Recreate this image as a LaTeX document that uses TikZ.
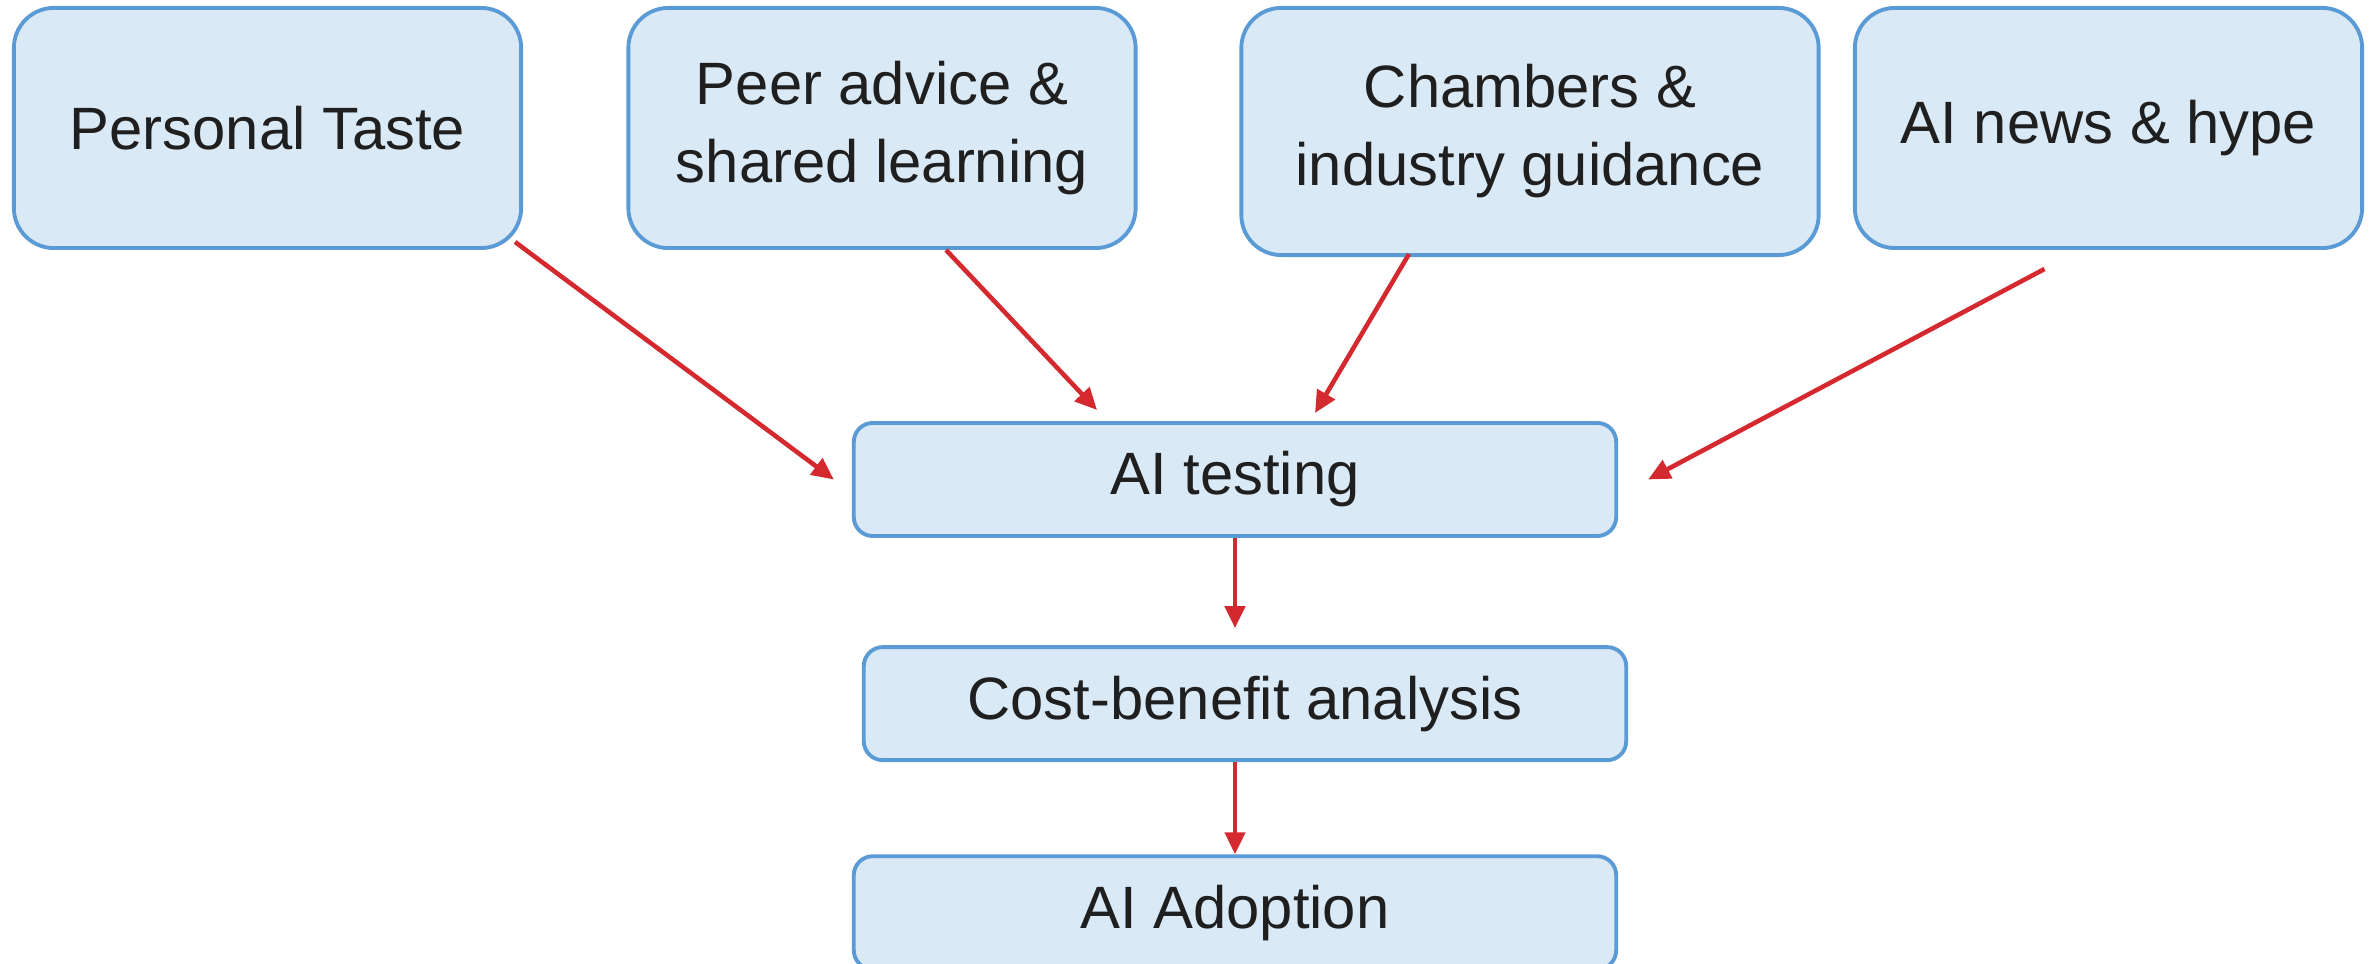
\documentclass[tikz,border=0pt]{standalone}
\usepackage{fontspec}
\setmainfont{Liberation Sans}
\usetikzlibrary{positioning, arrows.meta, calc}

\definecolor{boxfill}{HTML}{DAE9F6}
\definecolor{boxline}{HTML}{5B9BD5}
\definecolor{arrred}{HTML}{D42A2F}
\definecolor{txt}{HTML}{1F1F1F}

\tikzset{
    src/.style={rectangle, rounded corners=0.4cm, draw=boxline, fill=boxfill,
        line width=1.1pt, text=txt, align=center,
        minimum width=5.07cm, minimum height=2.4cm,
        font=\fontsize{17}{22.2}\selectfont},
    stage/.style={src, rounded corners=0.19cm, minimum width=7.62cm, minimum height=1.13cm},
    arr/.style={-{Triangle[length=0.22cm, width=0.2cm]}, draw=arrred, line width=1.3pt}
}

\begin{document}
\begin{tikzpicture}[x=0.01cm, y=-0.01cm, node distance=2.24cm, on grid]
    \useasboundingbox (0,0) rectangle (2377,964);

    % sources
    \node[src] (taste) at (267.5,128) {Personal Taste};
    \node[src] (peer) at (882,128) {Peer advice \&\\shared learning};
    \node[src, minimum width=5.77cm, minimum height=2.47cm] (chambers) at (1530,131.5) {Chambers \&\\industry guidance};
    \node[src] (news) at (2108.5,128) {AI news \& hype};

    % stages
    \node[stage] (test) at (1235,479.5) {AI testing};
    \node[stage] (cost) [below=of test, xshift=0.1cm] {Cost-benefit analysis};
    \node[stage] (adopt) [below=2.09cm of cost, xshift=-0.1cm] {AI Adoption};

    \draw[arr] ([shift={(-8,-8)}]taste.south east) -- ([xshift=-0.18cm]test.west);
    \draw[arr] ([xshift=0.64cm]peer.south) -- ([shift={(-138,-11)}]test.north);
    \draw[arr] ([shift={(-121,-3)}]chambers.south) -- ([shift={(80,-8)}]test.north);
    \draw[arr] ([shift={(-64,19)}]news.south) -- ([xshift=0.3cm]test.east);
    \draw[arr, shorten >=0.17cm] (test.south) -- (test.south |- cost.north);
    \draw[arr] (adopt.north |- cost.south) -- (adopt.north);
\end{tikzpicture}
\end{document}
